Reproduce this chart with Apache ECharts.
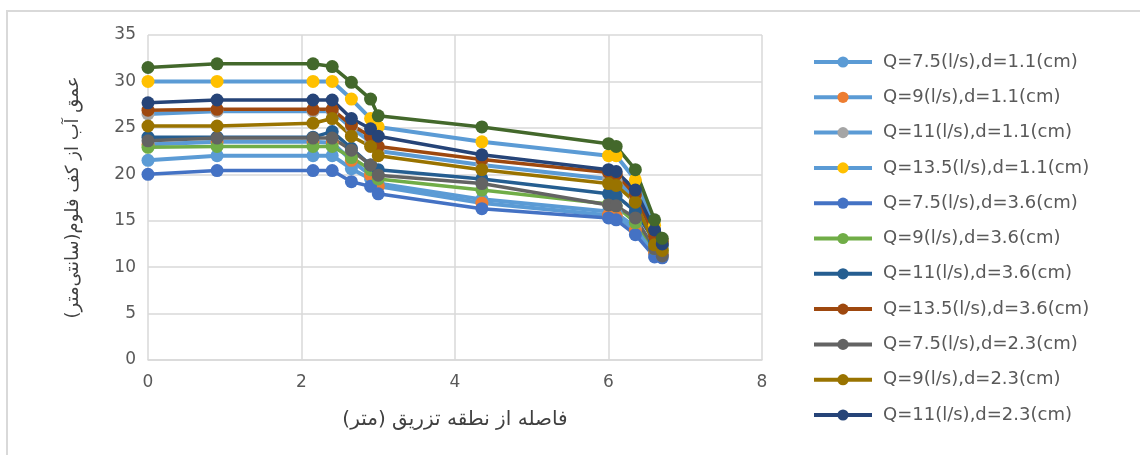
<!DOCTYPE html>
<html>
<head>
<meta charset="utf-8">
<script src="https://cdn.jsdelivr.net/npm/echarts@6/dist/echarts.min.js"></script>
<style>html,body{margin:0;padding:0;background:#fff;}#c{width:1140px;height:455px;}</style>
</head>
<body>
<div id="c"></div>
<script>
var xValues = [0, 0.9, 2.15, 2.4, 2.65, 2.9, 3.0, 4.35, 6.0, 6.1, 6.35, 6.6, 6.7];
var seriesNames = [
  'Q=7.5(l/s),d=1.1(cm)', 'Q=9(l/s),d=1.1(cm)', 'Q=11(l/s),d=1.1(cm)', 'Q=13.5(l/s),d=1.1(cm)',
  'Q=7.5(l/s),d=3.6(cm)', 'Q=9(l/s),d=3.6(cm)', 'Q=11(l/s),d=3.6(cm)', 'Q=13.5(l/s),d=3.6(cm)',
  'Q=7.5(l/s),d=2.3(cm)', 'Q=9(l/s),d=2.3(cm)', 'Q=11(l/s),d=2.3(cm)', 'Q=13.5(l/s),d=2.3(cm)'
];
var s1 = [21.5, 22.0, 22.0, 22.0, 20.6, 19.5, 19.0, 17.3, 16.0, 15.8, 14.3, 11.5, 11.3];
var s2 = [23.2, 23.5, 23.5, 23.4, 21.5, 19.9, 18.7, 16.9, 15.6, 15.5, 14.0, 11.6, 11.4];
var s3 = [26.5, 26.8, 26.8, 26.8, 25.0, 23.5, 22.5, 21.0, 19.5, 19.3, 17.5, 13.0, 12.5];
var s4 = [30.0, 30.0, 30.0, 30.0, 28.1, 26.0, 25.1, 23.5, 22.0, 22.0, 19.4, 14.5, 12.5];
var s5 = [20.0, 20.4, 20.4, 20.4, 19.2, 18.7, 17.9, 16.3, 15.3, 15.1, 13.5, 11.1, 11.0];
var s6 = [22.9, 23.0, 23.0, 23.0, 21.8, 20.5, 19.5, 18.3, 16.8, 16.6, 14.8, 12.0, 11.8];
var s7 = [24.0, 24.0, 24.0, 24.6, 22.8, 21.0, 20.5, 19.5, 17.9, 17.7, 16.0, 12.8, 12.3];
var s8 = [26.9, 27.0, 27.0, 27.0, 25.3, 24.1, 23.0, 21.6, 20.2, 20.0, 17.8, 13.3, 12.8];
var s9 = [23.6, 23.9, 23.9, 23.9, 22.6, 21.0, 19.9, 19.0, 16.7, 16.6, 15.3, 12.0, 11.2];
var s10 = [25.2, 25.2, 25.5, 26.0, 24.1, 23.0, 22.0, 20.5, 19.0, 18.8, 17.0, 12.4, 11.8];
var s11 = [27.7, 28.0, 28.0, 28.0, 26.0, 24.9, 24.1, 22.1, 20.5, 20.3, 18.3, 14.0, 12.5];
var s12 = [31.5, 31.9, 31.9, 31.6, 29.9, 28.1, 26.3, 25.1, 23.3, 23.0, 20.5, 15.1, 13.1];
var allValues = [s1, s2, s3, s4, s5, s6, s7, s8, s9, s10, s11, s12];
var markerColors = ['#5B9BD5','#ED7D31','#A5A5A5','#FFC000','#4472C4','#70AD47','#255E91','#9E480E','#636363','#997300','#264478','#43682B'];
var lineColors = ['#5B9BD5','#5B9BD5','#5B9BD5','#5B9BD5','#4472C4','#70AD47','#255E91','#9E480E','#636363','#997300','#264478','#43682B'];
var yTitle = 'عمق آب از کف فلوم(سانتی‌متر)';
var xTitle = 'فاصله از نطقه تزریق (متر)';

var series = allValues.map(function (vals, i) {
  return {
    name: seriesNames[i],
    type: 'line',
    data: vals.map(function (v, j) { return [xValues[j], v]; }),
    symbol: 'circle',
    symbolSize: 13,
    lineStyle: { color: lineColors[i], width: i < 4 ? 4 : 3.5 },
    itemStyle: { color: markerColors[i] },
    emphasis: { disabled: true },
    animation: false
  };
});

var chart = echarts.init(document.getElementById('c'));
chart.setOption({
  animation: false,
  backgroundColor: '#fff',
  graphic: [{
    type: 'rect', shape: { x: 7, y: 11, width: 1200, height: 500 },
    style: { fill: 'none', stroke: '#D9D9D9', lineWidth: 2 }, silent: true
  }],
  grid: { left: 148, right: 378, top: 35, bottom: 95, containLabel: false },
  xAxis: {
    type: 'value', min: 0, max: 8, interval: 2,
    axisLine: { show: true, lineStyle: { color: '#D9D9D9', width: 1.5 } },
    axisTick: { show: false },
    splitLine: { show: true, lineStyle: { color: '#D9D9D9', width: 1.5 } },
    axisLabel: { color: '#595959', fontFamily: 'DejaVu Sans', fontSize: 17, margin: 14 },
    name: xTitle, nameLocation: 'middle', nameGap: 50,
    nameTextStyle: { color: '#404040', fontFamily: 'DejaVu Sans', fontSize: 20 }
  },
  yAxis: {
    type: 'value', min: 0, max: 35, interval: 5,
    axisLine: { show: false },
    axisTick: { show: false },
    splitLine: { show: true, lineStyle: { color: '#D9D9D9', width: 1.5 } },
    axisLabel: { color: '#595959', fontFamily: 'DejaVu Sans', fontSize: 17, margin: 12 },
    name: yTitle, nameLocation: 'middle', nameGap: 66, nameRotate: 90,
    nameTextStyle: { color: '#404040', fontFamily: 'DejaVu Sans', fontSize: 18 }
  },
  legend: {
    data: seriesNames.slice(0, 11),
    orient: 'vertical',
    left: 807, top: 48,
    itemWidth: 58, itemHeight: 14,
    itemGap: 17.3,
    lineStyle: { width: 4 },
    textStyle: { color: '#595959', fontFamily: 'DejaVu Sans', fontSize: 18, padding: [0,0,0,6] },
    selectedMode: false
  },
  series: series
});
</script>
</body>
</html>
